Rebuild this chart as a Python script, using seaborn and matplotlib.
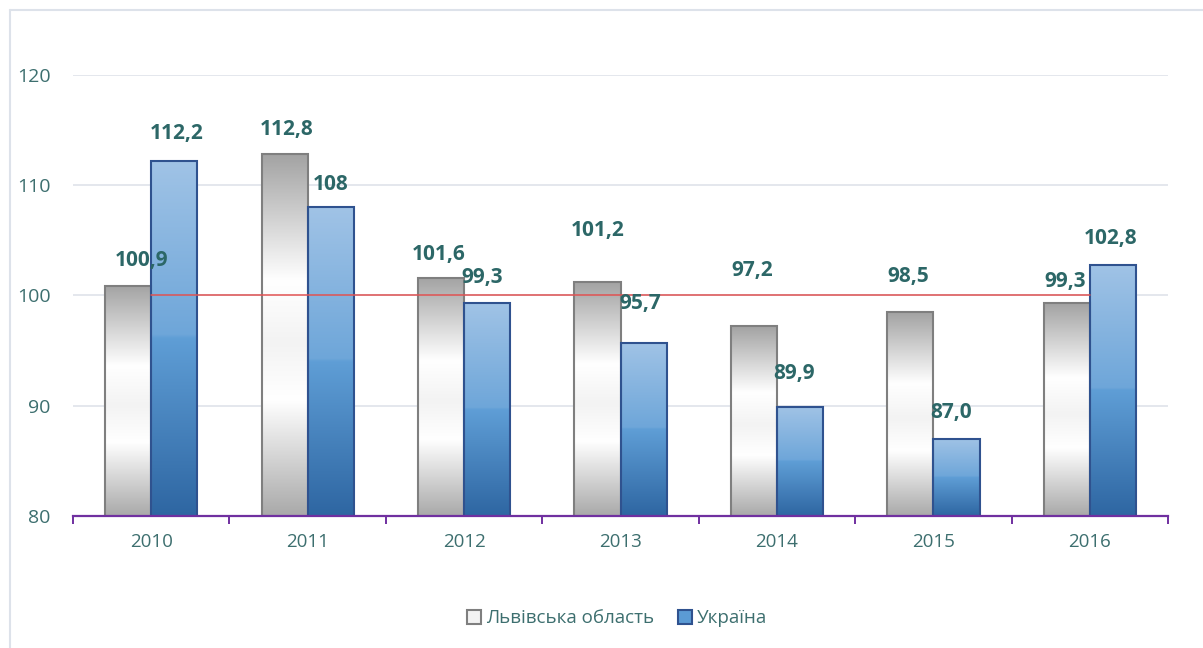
import numpy as np
import pandas as pd
import matplotlib
matplotlib.use('Agg')
import matplotlib.pyplot as plt
from matplotlib.colors import LinearSegmentedColormap
from matplotlib.patches import Patch
from matplotlib.lines import Line2D
import seaborn as sns

# chart data
years = ['2010', '2011', '2012', '2013', '2014', '2015', '2016']
series_names = ['Львівська область', 'Україна']
lviv_values = [100.9, 112.8, 101.6, 101.2, 97.2, 98.5, 99.3]
ukraine_values = [112.2, 108.0, 99.3, 95.7, 89.9, 87.0, 102.8]
lviv_labels = ['100,9', '112,8', '101,6', '101,2', '97,2', '98,5', '99,3']
ukraine_labels = ['112,2', '108', '99,3', '95,7', '89,9', '87,0', '102,8']
base_level = 100
y_ticks = [80, 90, 100, 110, 120]

# label nudges (pixels, relative to bar top centre)
lviv_offsets = [(13, 25), (2, 25), (-2, 23), (0, 52), (-2, 56), (-2, 36), (-2, 22)]
ukraine_offsets = [(2, 27), (0, 23), (-5, 26), (-3, 39), (-6, 33), (-5, 26), (-2, 26)]

TEAL = '#2c6767'
TICK = '#3d6f6f'
PURPLE = '#7030a0'

sns.set_style('white')
plt.rcParams['font.family'] = ['Open Sans', 'DejaVu Sans']

df = pd.DataFrame({
    'year': years * 2,
    'value': lviv_values + ukraine_values,
    'series': [series_names[0]] * len(years) + [series_names[1]] * len(years),
})

fig = plt.figure(figsize=(12.03, 6.48), dpi=100)
ax = fig.add_axes([0.0607, 0.2037, 0.9103, 0.6806])

sns.barplot(data=df, x='year', y='value', hue='series', order=years,
            hue_order=series_names, width=0.59, ax=ax, legend=False,
            palette=['#ffffff', '#5b9bd5'], saturation=1)

gray_cmap = LinearSegmentedColormap.from_list('g', [
    (0.0, '#a3a3a3'), (0.35, '#ffffff'), (0.52, '#f3f3f3'),
    (0.68, '#ffffff'), (1.0, '#a9a9a9')])
blue_cmap = LinearSegmentedColormap.from_list('b', [
    (0.0, '#a0c3e6'), (0.49, '#6ea6d9'), (0.5, '#5f9ed6'), (1.0, '#2e66a2')])
grad = np.linspace(0, 1, 256).reshape(-1, 1)

styles = [(gray_cmap, '#7f7f7f'), (blue_cmap, '#2f528f')]
for cont, (cmap, edge) in zip(ax.containers, styles):
    for bar in cont:
        x0 = bar.get_x()
        w = bar.get_width()
        top = bar.get_height()
        bar.set_facecolor('none')
        bar.set_edgecolor(edge)
        bar.set_linewidth(1.5)
        bar.set_zorder(3)
        im = ax.imshow(grad, cmap=cmap, aspect='auto', zorder=2, origin='upper',
                       extent=[x0, x0 + w, 80, top], interpolation='bilinear')
        im.set_clip_path(bar)

ax.set_ylim(80, 120)
ax.set_xlim(-0.5, len(years) - 0.5)

# reference line at 100
sns.lineplot(x=list(range(len(years))), y=[base_level] * len(years),
             color='#e05252', linewidth=1.1, ax=ax, zorder=4)

# data labels
for cont, labels, offs in zip(ax.containers, [lviv_labels, ukraine_labels],
                              [lviv_offsets, ukraine_offsets]):
    for bar, lab, (dx, dy) in zip(cont, labels, offs):
        ax.annotate(lab, (bar.get_x() + bar.get_width() / 2, bar.get_height()),
                    xytext=(dx, dy), textcoords='offset pixels',
                    ha='center', va='center', fontsize=15,
                    fontweight='bold', color=TEAL, zorder=5)

# axes styling
ax.set_yticks(y_ticks)
ax.yaxis.grid(True, color='#dfe3ea', linewidth=1.2)
ax.set_axisbelow(True)
for s in ['top', 'right', 'left']:
    ax.spines[s].set_visible(False)
ax.spines['bottom'].set_color(PURPLE)
ax.spines['bottom'].set_linewidth(1.6)
ax.spines['bottom'].set_zorder(6)
ax.set_xlabel('')
ax.set_ylabel('')
ax.tick_params(axis='y', length=0, labelsize=14, labelcolor=TICK, pad=16)
ax.tick_params(axis='x', which='major', length=0, labelsize=13.5,
               labelcolor=TICK, pad=12)
ax.set_xticks(np.arange(-0.5, len(years)), minor=True)
ax.tick_params(axis='x', which='minor', bottom=True, length=6, width=1.4,
               color=PURPLE, direction='out')

# legend
handles = [Patch(facecolor='#f2f2f2', edgecolor='#7f7f7f', linewidth=1.5),
           Patch(facecolor='#5b9bd5', edgecolor='#2f528f', linewidth=1.5)]
fig.legend(handles, series_names, loc='center', bbox_to_anchor=(0.513, 0.046),
           ncol=2, frameon=False, handlelength=0.75, handleheight=0.75,
           columnspacing=1.3, handletextpad=0.25, fontsize=13.5,
           labelcolor=TICK)

# chart frame (top and left edges visible)
fig.add_artist(Line2D([10 / 1203, 1], [1 - 10 / 648, 1 - 10 / 648],
                      color='#dde2ea', linewidth=1.5))
fig.add_artist(Line2D([10 / 1203, 10 / 1203], [0, 1 - 10 / 648],
                      color='#dde2ea', linewidth=1.5))

fig.savefig('out.png', dpi=100)
